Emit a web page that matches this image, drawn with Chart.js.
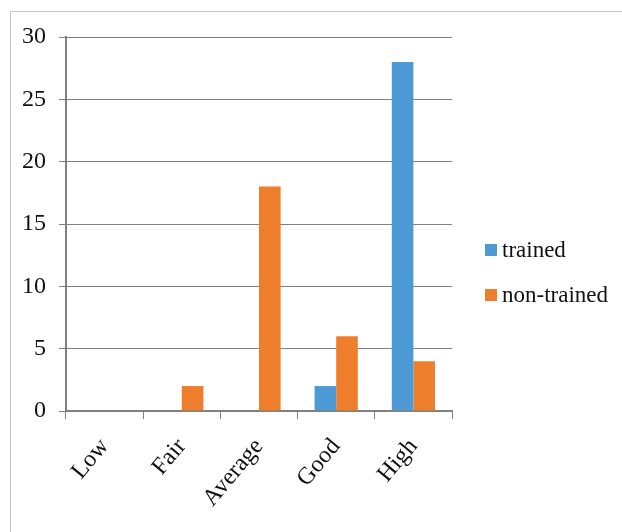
<!DOCTYPE html>
<html>
<head>
<meta charset="utf-8">
<script src="https://cdn.jsdelivr.net/npm/chart.js@4.4.1/dist/chart.umd.min.js"></script>
<style>
  html, body { margin: 0; padding: 0; background: #fff; }
  #wrap { position: relative; width: 622px; height: 532px; overflow: hidden; }
  #frame { position: absolute; left: 10px; top: 11px; width: 700px; height: 600px; border-left: 1px solid #c4c4c4; border-top: 1px solid #c4c4c4; }
  #c { position: absolute; left: 0; top: 0; }
  #legend { position: absolute; left: 485px; top: 235px; font-family: "Liberation Serif", "Times New Roman", serif; font-size: 23px; color: #111; }
  #legend .item { display: flex; align-items: center; height: 30px; margin-bottom: 15px; }
  #legend .sw { width: 12px; height: 12px; margin-right: 5px; }
</style>
</head>
<body>
<div id="wrap">
  <div id="frame"></div>
  <canvas id="c" width="622" height="532"></canvas>
  <div id="legend"></div>
</div>
<script>
const categories = ["Low", "Fair", "Average", "Good", "High"];
const seriesNames = ["trained", "non-trained"];
const trained = [0, 0, 0, 2, 28];
const nonTrained = [0, 2, 18, 6, 4];
const yTicks = [0, 5, 10, 15, 20, 25, 30];
const colors = ["#4E9AD4", "#EE7D2C"];

const datasets = [
  { label: seriesNames[0], data: trained, backgroundColor: colors[0] },
  { label: seriesNames[1], data: nonTrained, backgroundColor: colors[1] }
];

const font = { family: "'Liberation Serif', 'Times New Roman', serif", size: 24 };

new Chart(document.getElementById('c'), {
  type: 'bar',
  data: { labels: categories, datasets: datasets.map(d => Object.assign({ categoryPercentage: 0.56, barPercentage: 1.0, borderWidth: 0 }, d)) },
  options: {
    responsive: false,
    animation: false,
    devicePixelRatio: 1,
    layout: { padding: { left: 0, right: 170, top: 37, bottom: 0 } },
    plugins: { legend: { display: false }, tooltip: { enabled: false } },
    scales: {
      x: {
        grid: { display: true, drawOnChartArea: false, drawTicks: true, tickLength: 8, color: '#808080', offset: true },
        border: { display: true, color: '#808080', width: 2 },
        ticks: { color: '#111', font: font, minRotation: 50, maxRotation: 50, padding: 14, autoSkip: false },
        afterFit: s => { s.height = 121; }
      },
      y: {
        min: 0, max: 30,
        afterBuildTicks: s => { s.ticks = yTicks.map(v => ({ value: v })); },
        grid: { color: '#808080', lineWidth: 1, tickLength: 7, drawTicks: true },
        border: { display: true, color: '#808080', width: 2 },
        ticks: { color: '#111', font: font, padding: 13 },
        afterFit: s => { s.width = 66; }
      }
    }
  }
});

const lg = document.getElementById('legend');
datasets.forEach(d => {
  const it = document.createElement('div'); it.className = 'item';
  const sw = document.createElement('span'); sw.className = 'sw'; sw.style.background = d.backgroundColor;
  const tx = document.createElement('span'); tx.textContent = d.label;
  it.appendChild(sw); it.appendChild(tx); lg.appendChild(it);
});
</script>
</body>
</html>
